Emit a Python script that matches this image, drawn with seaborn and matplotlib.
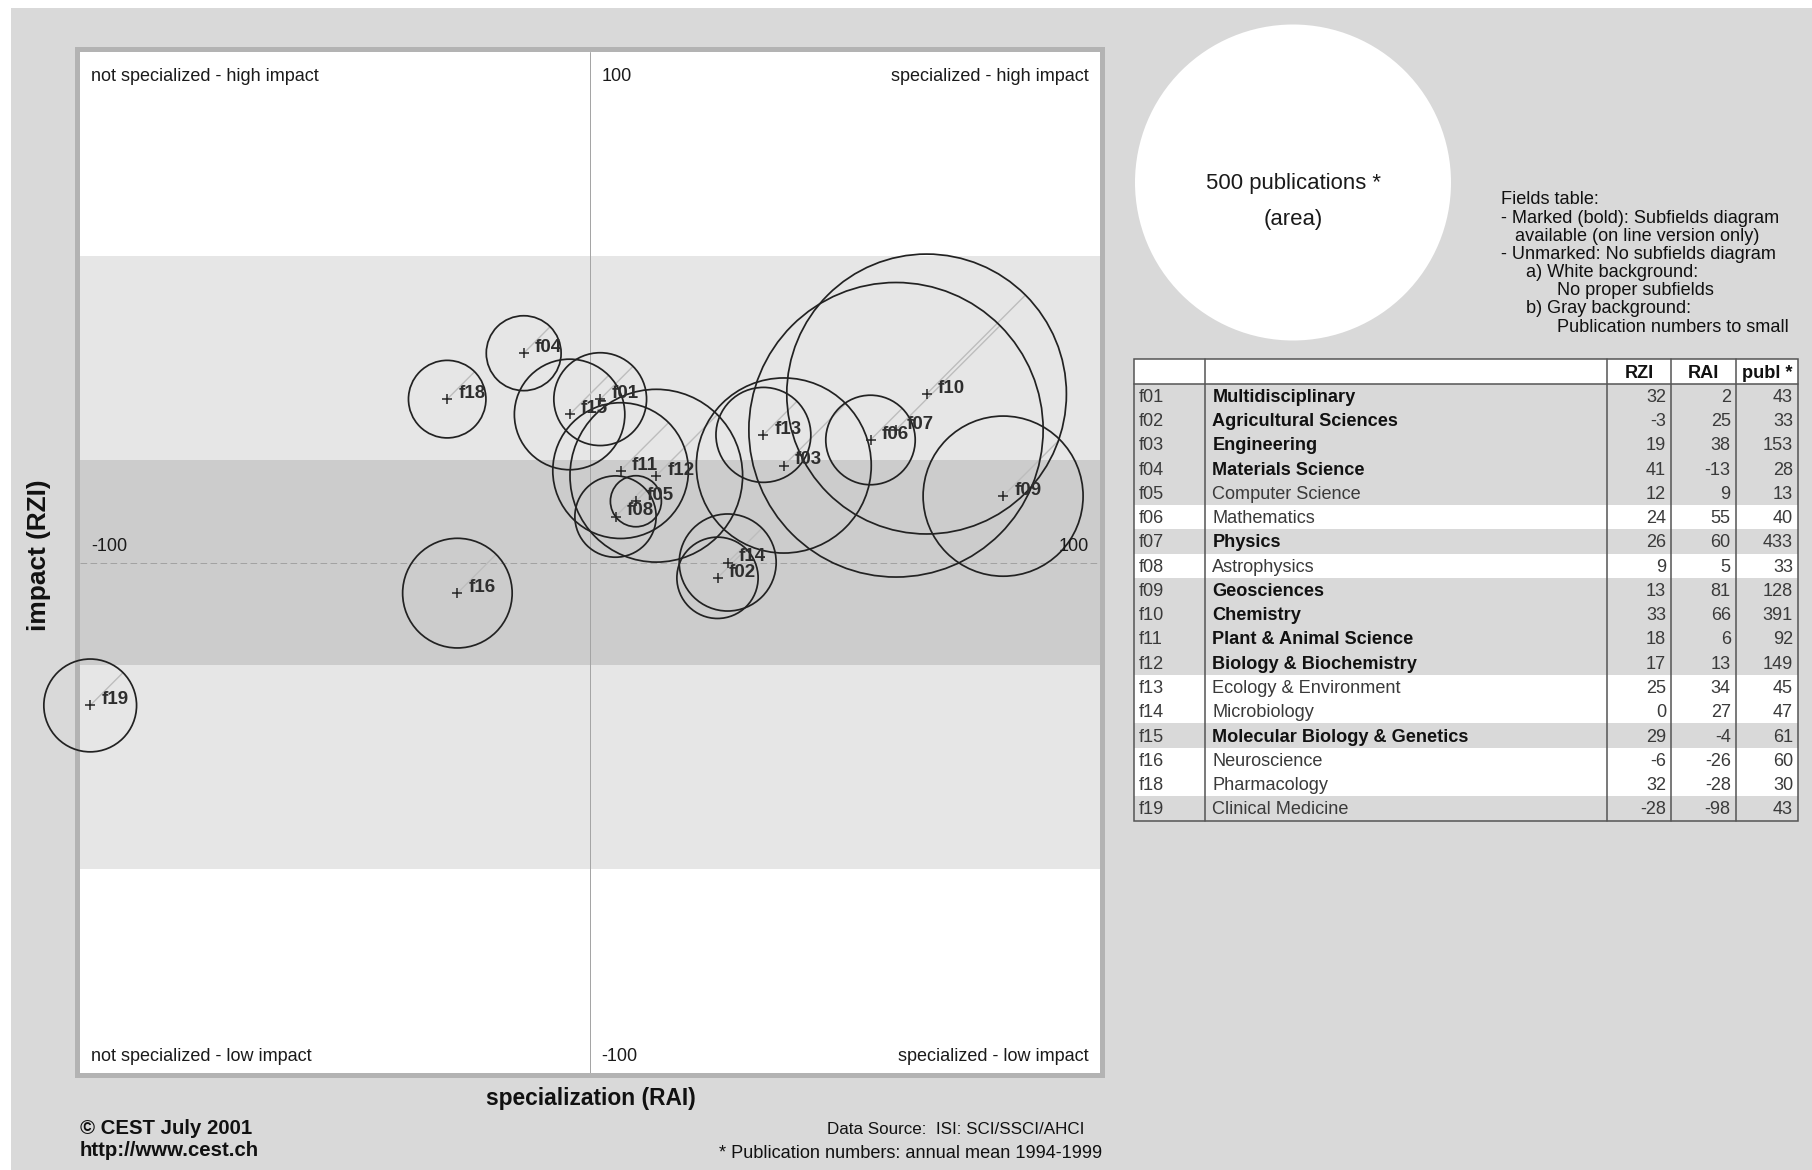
import numpy as np
import pandas as pd
import matplotlib
matplotlib.use("Agg")
import matplotlib.pyplot as plt
import seaborn as sns
from matplotlib.patches import Circle, Rectangle
from matplotlib import font_manager as fm

# ---------------- data ----------------
codes = ["f01", "f02", "f03", "f04", "f05", "f06", "f07", "f08", "f09", "f10",
         "f11", "f12", "f13", "f14", "f15", "f16", "f18", "f19"]
names = ["Multidisciplinary", "Agricultural Sciences", "Engineering", "Materials Science",
         "Computer Science", "Mathematics", "Physics", "Astrophysics", "Geosciences",
         "Chemistry", "Plant & Animal Science", "Biology & Biochemistry",
         "Ecology & Environment", "Microbiology", "Molecular Biology & Genetics",
         "Neuroscience", "Pharmacology", "Clinical Medicine"]
rzi = [32, -3, 19, 41, 12, 24, 26, 9, 13, 33, 18, 17, 25, 0, 29, -6, 32, -28]
rai = [2, 25, 38, -13, 9, 55, 60, 5, 81, 66, 6, 13, 34, 27, -4, -26, -28, -98]
publ = [43, 33, 153, 28, 13, 40, 433, 33, 128, 391, 92, 149, 45, 47, 61, 60, 30, 43]
marked = [True, True, True, True, False, False, True, False, True, True,
          True, True, False, False, True, False, False, False]
gray_bg = [True, True, True, True, True, False, True, False, True, True,
           True, True, False, False, True, False, False, True]
ref_publ = 500
header = ["", "", "RZI", "RAI", "publ *"]
corner_texts = [("not specialized - high impact", "left", -97.8, 95.2),
                ("100", "left", 2.3, 95.2),
                ("specialized - high impact", "right", 97.8, 95.2),
                ("-100", "left", -97.8, 3.1),
                ("100", "right", 97.8, 3.1),
                ("not specialized - low impact", "left", -97.8, -96.8),
                ("-100", "left", 2.3, -96.8),
                ("specialized - low impact", "right", 97.8, -96.8)]
notes = [("Fields table:", 0), ("- Marked (bold): Subfields diagram", 0),
         ("available (on line version only)", 14), ("- Unmarked: No subfields diagram", 0),
         ("a) White background:", 25.5), ("No proper subfields", 55.6),
         ("b) Gray background:", 25.5), ("Publication numbers to small", 55.6)]

# ---------------- fonts ----------------
sns.set_style("white")
avail = {f.name for f in fm.fontManager.ttflist}
SANS = "Liberation Sans" if "Liberation Sans" in avail else "DejaVu Sans"
if "Liberation Sans Narrow" in avail:
    NARROW, NS = "Liberation Sans Narrow", 1.0
else:
    NARROW, NS = SANS, 0.84
plt.rcParams["font.family"] = [SANS, "DejaVu Sans"]
NF = [NARROW, SANS, "DejaVu Sans"]

W, H = 1812, 1170
fig = plt.figure(figsize=(W / 100, H / 100), dpi=100)
fig.patch.set_facecolor("white")

# overlay in pixel coordinates
ov = fig.add_axes([0, 0, 1, 1], zorder=-1)
ov.set_xlim(0, W)
ov.set_ylim(H, 0)
ov.axis("off")
ov.add_patch(Rectangle((11, 8), W - 11, H - 8, color="#d9d9d9", lw=0))
ov.add_patch(Rectangle((75, 47), 1030, 1031, color="#b3b3b3", lw=0))

# ---------------- main plot ----------------
ax = fig.add_axes([80 / W, 1 - 1073 / H, 1020 / W, 1021 / H])
ax.set_facecolor("white")
ax.axhspan(-60, 60, color="#e6e6e6", lw=0, zorder=0)
ax.axhspan(-20, 20, color="#cccccc", lw=0, zorder=0.1)
ax.axvline(0, color="#a3a3a3", lw=0.7, zorder=0.5)
ax.axhline(0, color="#9a9a9a", lw=0.6, ls=(0, (8, 4)), zorder=0.5)

df = pd.DataFrame({"code": codes, "RZI": rzi, "RAI": rai, "publ": publ})
r_ref = 31.0  # radius (axis units) of the 500-publication circle
df["r"] = r_ref * np.sqrt(df["publ"] / ref_publ)
c45 = np.cos(np.pi / 4)
for _, row in df.iterrows():
    ax.plot([row.RAI, row.RAI + row.r * c45], [row.RZI, row.RZI + row.r * c45],
            color="#bdbdbd", lw=1.0, zorder=2, clip_on=False)
    ax.add_patch(Circle((row.RAI, row.RZI), row.r, fill=False, ec="#222222",
                        lw=1.25, zorder=3, clip_on=False))

sns.scatterplot(data=df, x="RAI", y="RZI", marker="+", s=60, color="#262626",
                linewidth=1.1, ax=ax, zorder=5, legend=False)
for _, row in df.iterrows():
    ax.annotate(row.code, (row.RAI, row.RZI), xytext=(8, 4), textcoords="offset points",
                fontsize=13.5, fontweight="bold", color="#2e2e2e", ha="left", va="center",
                zorder=6, annotation_clip=False)

for txt, ha, x, y in corner_texts:
    ax.text(x, y, txt, ha=ha, va="center", fontsize=13, color="#1a1a1a")

ax.set_xlim(-100, 100)
ax.set_ylim(-100, 100)
ax.set_xlabel("")
ax.set_ylabel("")
ax.set_xticks([])
ax.set_yticks([])
for s in ax.spines.values():
    s.set_visible(False)

# axis titles and footers
ov.text(590.5, 1099, "specialization (RAI)", ha="center", va="center",
        fontsize=19.5 * NS, fontweight="bold", family=NF, color="#111111")
ov.text(39, 555, "impact (RZI)", ha="center", va="center", rotation=90,
        fontsize=22.5 * NS, fontweight="bold", family=NF, color="#111111")
ov.text(80, 1129, "\u00a9 CEST July 2001", ha="left", va="center",
        fontsize=17.5 * NS, fontweight="bold", family=NF, color="#111111")
ov.text(80, 1150, "http://www.cest.ch", ha="left", va="center",
        fontsize=17.5 * NS, fontweight="bold", family=NF, color="#111111")
ov.text(1084, 1129, "Data Source:  ISI: SCI/SSCI/AHCI", ha="right", va="center",
        fontsize=14.6 * NS, family=NF, color="#111111")
ov.text(1102, 1153, "* Publication numbers: annual mean 1994-1999", ha="right",
        va="center", fontsize=15.5 * NS, family=NF, color="#111111")

# legend circle
ov.add_patch(Circle((1293, 182.5), 158, color="white", lw=0))
ov.text(1293, 183.5, "500 publications *", ha="center", va="center",
        fontsize=19 * NS, family=NF, color="#1a1a1a")
ov.text(1293, 219.5, "(area)", ha="center", va="center",
        fontsize=19 * NS, family=NF, color="#1a1a1a")

# notes
for i, (txt, dx) in enumerate(notes):
    ov.text(1501 + dx, 200 + i * 18.15, txt, ha="left", va="center",
            fontsize=15.5 * NS, family=NF, color="#111111")

# ---------------- fields table ----------------
cols = [1133.6, 1205.3, 1607.4, 1671.0, 1735.7, 1798.0]
top, bottom = 359.4, 820.5
rh = (bottom - top) / (len(codes) + 1)
ov.add_patch(Rectangle((cols[0], top), cols[-1] - cols[0], rh, color="white", lw=0))
for i in range(len(codes)):
    y0 = top + (i + 1) * rh
    ov.add_patch(Rectangle((cols[0], y0), cols[-1] - cols[0], rh,
                           color="#d9d9d9" if gray_bg[i] else "white", lw=0))
lc = "#555555"
ov.add_patch(Rectangle((cols[0], top), cols[-1] - cols[0], bottom - top,
                       fill=False, ec=lc, lw=1.1))
for cx in cols[1:-1]:
    ov.plot([cx, cx], [top, bottom], color=lc, lw=1.1)
ov.plot([cols[0], cols[-1]], [top + rh, top + rh], color=lc, lw=1.1)

TS = 15.5 * NS
for j, h in enumerate(header):
    if h:
        ov.text((cols[j] + cols[j + 1]) / 2, top + rh / 2 + 1.5, h, ha="center",
                va="center", fontsize=TS, fontweight="bold", family=NF, color="#111111")
for i in range(len(codes)):
    yc = top + (i + 1.5) * rh + 1.5
    ov.text(cols[0] + 5, yc, codes[i], ha="left", va="center", fontsize=TS,
            family=NF, color="#3a3a3a")
    ov.text(cols[1] + 7, yc, names[i], ha="left", va="center", fontsize=TS,
            family=NF, fontweight="bold" if marked[i] else "normal",
            color="#111111" if marked[i] else "#3a3a3a")
    for j, v in zip([2, 3, 4], [rzi[i], rai[i], publ[i]]):
        ov.text(cols[j + 1] - 5, yc, str(v), ha="right", va="center", fontsize=TS,
                family=NF, color="#3a3a3a")

fig.savefig("out.png", dpi=100, facecolor="white")
